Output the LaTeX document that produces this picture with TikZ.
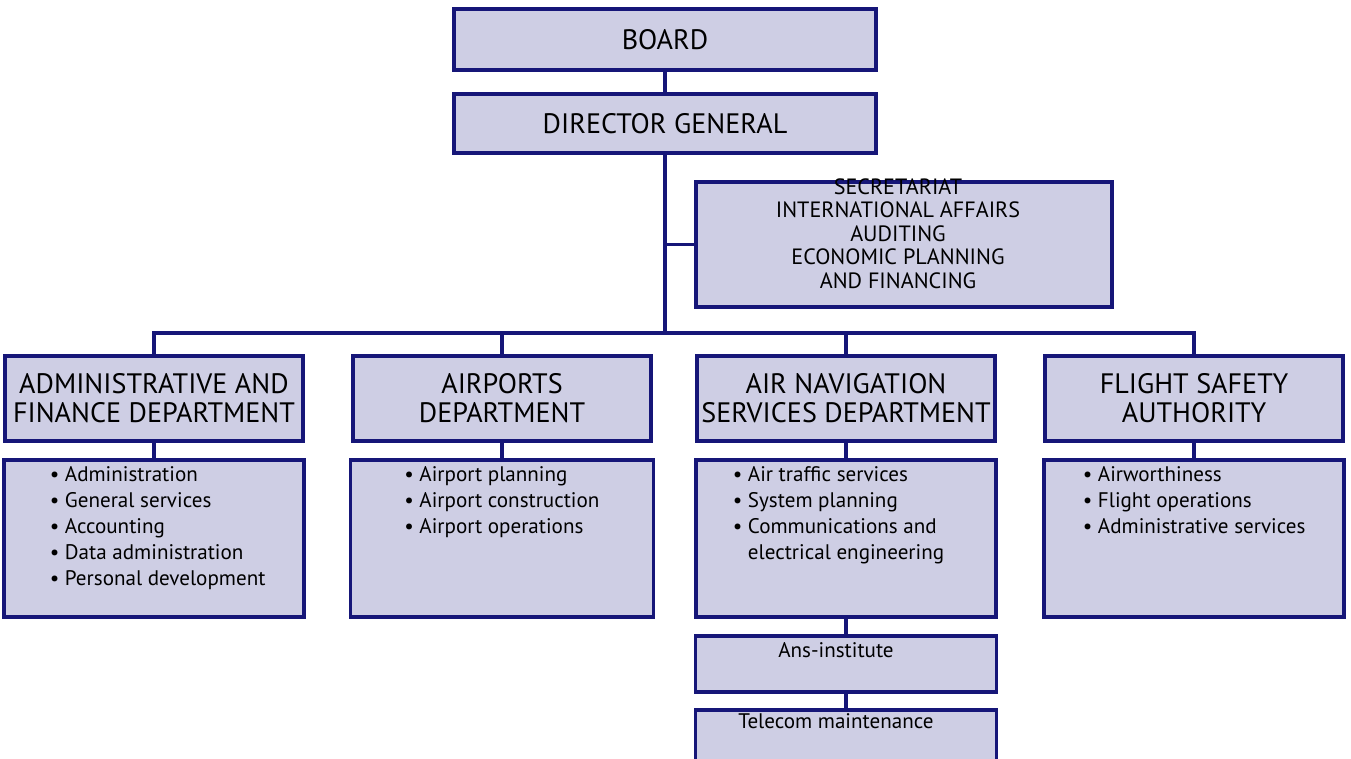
\documentclass[tikz,border=0pt]{standalone}
\usepackage{fontspec}
\setmainfont{PT Sans}
\usepackage{xcolor}
\usepackage{tikz}
\usetikzlibrary{positioning}
\definecolor{boxfill}{RGB}{206,206,228}
\definecolor{boxline}{RGB}{22,22,120}

\tikzset{
  orgbox/.style={draw=boxline, fill=boxfill, line width=1.8pt, inner sep=0pt},
  topbox/.style={orgbox, minimum width=8.44cm, minimum height=1.22cm, font=\fontsize{16}{18}\selectfont},
  headbox/.style={orgbox, minimum width=5.96cm, minimum height=1.7cm, align=center, font=\fontsize{16}{16.6}\selectfont},
  listbox/.style={orgbox, minimum width=6cm, minimum height=3.14cm},
  listtext/.style={anchor=north west, inner sep=0pt, align=left, font=\fontsize{12}{14.7}\selectfont},
  sectext/.style={anchor=north, inner sep=0pt, align=center, font=\fontsize{12.6}{13.3}\selectfont},
  smalltext/.style={anchor=north, inner sep=0pt, font=\fontsize{12}{14}\selectfont},
  link/.style={draw=boxline, line width=1.8pt},
}

\begin{document}
\begin{tikzpicture}[x=0.02cm, y=-0.02cm]
    \useasboundingbox (0,0) rectangle (1351,758);
    \clip (0,0) rectangle (1351,758);
    % top of the chart
    \node[topbox] (board) at (665,39.5) {BOARD};
    \node[topbox, minimum height=1.18cm] (dg) at (665,123.5) {DIRECTOR GENERAL};
    \node[orgbox, minimum width=8.32cm, minimum height=2.5cm] (sec) at (904,244.5) {};
    \node[sectext] (sectxt) at ([xshift=-0.12cm, yshift=0.04cm]sec.north) {SECRETARIAT\\INTERNATIONAL AFFAIRS\\AUDITING\\ECONOMIC PLANNING\\AND FINANCING};
    \coordinate (bus) at (665,333);
    % departments
    \node[headbox] (admin) at (154,398.5) {ADMINISTRATIVE AND\\FINANCE DEPARTMENT};
    \node[headbox] (airports) at (502,398.5) {AIRPORTS\\DEPARTMENT};
    \node[headbox] (ans) at (846,398.5) {AIR NAVIGATION\\SERVICES DEPARTMENT};
    \node[headbox] (fsa) at (1194,398.5) {FLIGHT SAFETY\\AUTHORITY};
    % units of each department
    \node[listbox] (adminlist) at (154,538.5) {};
    \node[listbox, minimum width=6.06cm] (airportslist) at (502,538.5) {};
    \node[listbox] (anslist) at (846,538.5) {};
    \node[listbox] (fsalist) at (1194,538.5) {};
    \node[listtext] (admintxt) at ([xshift=0.94cm, yshift=-0.16cm]adminlist.north west) {\textbullet~Administration\\\textbullet~General services\\\textbullet~Accounting\\\textbullet~Data administration\\\textbullet~Personal development};
    \node[listtext] (airportstxt) at ([xshift=1.1cm, yshift=-0.16cm]airportslist.north west) {\textbullet~Airport planning\\\textbullet~Airport construction\\\textbullet~Airport operations};
    \node[listtext] (anstxt) at ([xshift=0.76cm, yshift=-0.16cm]anslist.north west) {\textbullet~Air traffic services\\\textbullet~System planning\\\textbullet~Communications and\\\phantom{\textbullet~}electrical engineering};
    \node[listtext] (fsatxt) at ([xshift=0.8cm, yshift=-0.16cm]fsalist.north west) {\textbullet~Airworthiness\\\textbullet~Flight operations\\\textbullet~Administrative services};
    \node[orgbox, minimum width=6.02cm, minimum height=1.12cm] (ansi) at (846,664) {};
    \node[orgbox, minimum width=6.02cm, minimum height=1.12cm] (tel) at (846,738) {};
    \node[smalltext] (ansitxt) at ([xshift=-0.2cm, yshift=-0.16cm]ansi.north) {Ans-institute};
    \node[smalltext] (teltxt) at ([xshift=-0.2cm, yshift=-0.1cm]tel.north) {Telecom maintenance};
    % connectors
    \path[link] (board) edge (dg);
    \draw[link] (dg.south) -- (bus);
    \draw[link] (dg.south |- sec.west) -- (sec.west);
    \draw[link] (admin.north) |- (bus) -| (fsa.north);
    \draw[link] (airports.north) -- (airports.north |- bus);
    \draw[link] (ans.north) -- (ans.north |- bus);
    \path[link] (admin) edge (adminlist) (airports) edge (airportslist)
                (ans) edge (anslist) (fsa) edge (fsalist);
    \path[link] (anslist) edge (ansi) (ansi) edge (tel);
\end{tikzpicture}
\end{document}
